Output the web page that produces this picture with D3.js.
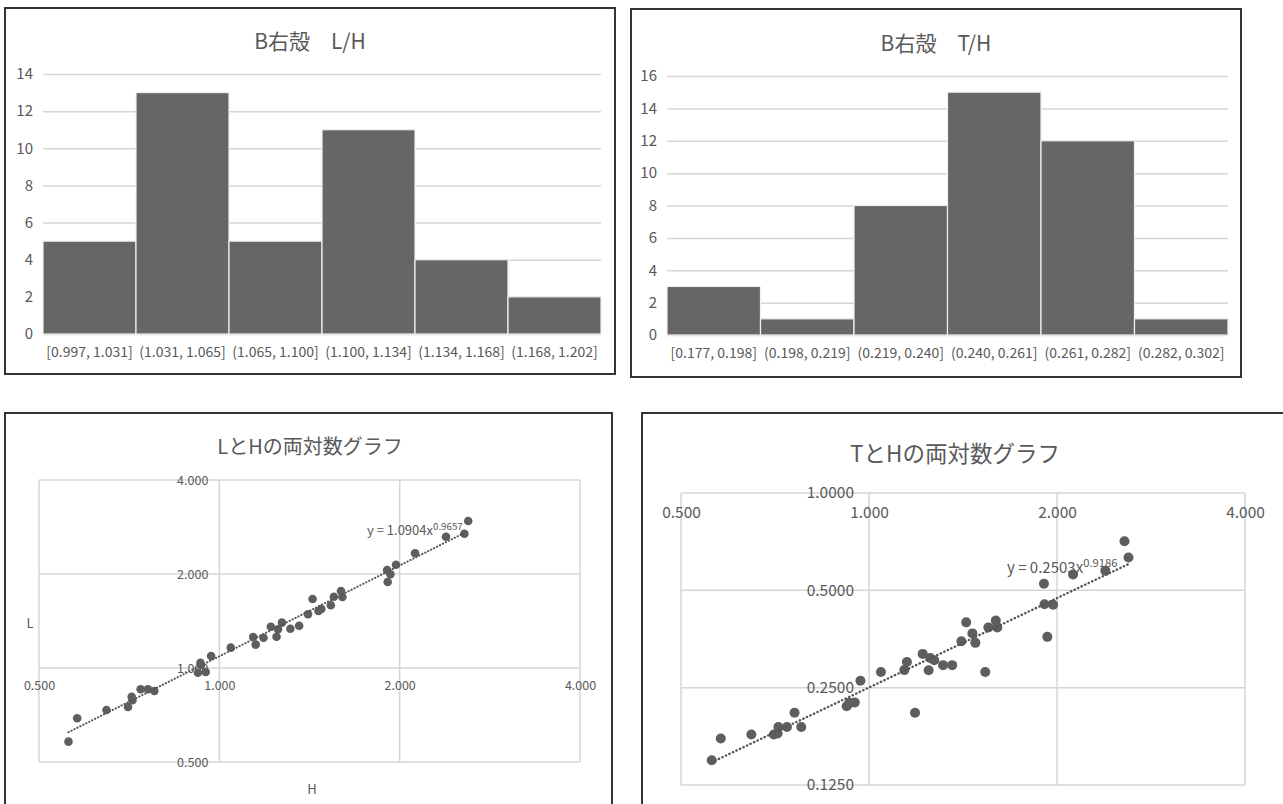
<!DOCTYPE html>
<html>
<head>
<meta charset="utf-8">
<script src="https://cdn.jsdelivr.net/npm/d3@7"></script>
<style>
  body { margin: 0; background: #fff; }
  svg { display: block; }
  text { font-family: "Noto Sans CJK JP", "Noto Sans", sans-serif; fill: #595959; }
</style>
</head>
<body>
<svg id="chart" width="1283" height="804"></svg>
<script>
// ---- Histogram of L/H ratio (right valve, group B) ----
const binsLH = ["[0.997, 1.031]", "(1.031, 1.065]", "(1.065, 1.100]", "(1.100, 1.134]", "(1.134, 1.168]", "(1.168, 1.202]"];
const countsLH = [5, 13, 5, 11, 4, 2];
const ticksLH = [0, 2, 4, 6, 8, 10, 12, 14];

// ---- Histogram of T/H ratio ----
const binsTH = ["[0.177, 0.198]", "(0.198, 0.219]", "(0.219, 0.240]", "(0.240, 0.261]", "(0.261, 0.282]", "(0.282, 0.302]"];
const countsTH = [3, 1, 8, 15, 12, 1];
const ticksTH = [0, 2, 4, 6, 8, 10, 12, 14, 16];

// ---- Shell measurements: height H, length L, thickness T ----
const shellH = [0.560, 0.579, 0.648, 0.704, 0.714, 0.716, 0.739, 0.760, 0.779, 0.921,
                0.930, 0.932, 0.949, 0.969, 1.045, 1.139, 1.150, 1.185, 1.219, 1.246,
                1.253, 1.272, 1.314, 1.359, 1.406, 1.431, 1.464, 1.480, 1.535, 1.553,
                1.596, 1.605, 1.906, 1.910, 1.930, 1.972, 2.122, 2.390, 2.565, 2.603];
const shellL = [0.581, 0.690, 0.734, 0.750, 0.809, 0.788, 0.855, 0.855, 0.844, 0.966,
                1.040, 1.022, 0.971, 1.093, 1.162, 1.257, 1.188, 1.250, 1.356, 1.259,
                1.330, 1.397, 1.336, 1.366, 1.486, 1.663, 1.522, 1.545, 1.588, 1.692,
                1.764, 1.688, 2.060, 1.885, 1.996, 2.142, 2.330, 2.633, 2.692, 2.957];
const shellT = [0.149, 0.174, 0.179, 0.179, 0.1805, 0.189, 0.189, 0.209, 0.189, 0.219,
                0.224, 0.224, 0.225, 0.2625, 0.2795, 0.2833, 0.300, 0.209, 0.318, 0.283,
                0.309, 0.304, 0.2935, 0.2935, 0.348, 0.398, 0.368, 0.344, 0.2795, 0.384,
                0.403, 0.384, 0.524, 0.453, 0.359, 0.451, 0.560, 0.575, 0.709, 0.632];

// ---- Log axes ----
const logTicksH = [0.5, 1, 2, 4];
const logLabelsH = ["0.500", "1.000", "2.000", "4.000"];
const logTicksL = [0.5, 1, 2, 4];
const logLabelsL = ["0.500", "1.000", "2.000", "4.000"];
const logTicksT = [0.125, 0.25, 0.5, 1];
const logLabelsT = ["0.1250", "0.2500", "0.5000", "1.0000"];

// ---- Power-law fits y = a * x^b ----
const powerFitL = [1.0904, 0.9657];
const powerFitT = [0.2503, 0.9186];

const svg = d3.select("#chart");
const INK = "#595959";
const GRID = "#d6d6d6";

function panelFrame(x0, y0, x1, y1) {
  svg.append("rect")
    .attr("x", x0).attr("y", y0)
    .attr("width", x1 - x0).attr("height", y1 - y0)
    .attr("fill", "#fff")
    .attr("stroke", "#333").attr("stroke-width", 2);
}

function histogram(frame, area, title, titleY, bins, counts, ticks, tickFont, binFont, titleFont) {
  panelFrame(...frame);
  const [ax0, ay0, ax1, ay1] = area;
  const g = svg.append("g");
  const x = d3.scaleBand().domain(bins).range([ax0, ax1]).padding(0);
  const y = d3.scaleLinear().domain([0, d3.max(ticks)]).range([ay1, ay0]);

  // horizontal gridlines + value labels
  const yAxis = g.append("g")
    .attr("transform", `translate(${ax0},0)`)
    .call(d3.axisLeft(y).tickValues(ticks).tickSize(-(ax1 - ax0)).tickPadding(10).tickFormat(d3.format("d")));
  yAxis.select(".domain").remove();
  yAxis.selectAll("line").attr("stroke", GRID).attr("stroke-width", 1.5);
  yAxis.selectAll("text").attr("font-size", tickFont).style("fill", INK);

  g.selectAll("rect.bar").data(counts).join("rect")
    .attr("class", "bar")
    .attr("x", (d, i) => x(bins[i]))
    .attr("width", x.bandwidth())
    .attr("y", d => y(d))
    .attr("height", d => y(0) - y(d))
    .attr("fill", "#666")
    .attr("stroke", "#f0f0f0").attr("stroke-width", 1.2);

  const xAxis = g.append("g")
    .attr("transform", `translate(0,${ay1})`)
    .call(d3.axisBottom(x).tickSize(0).tickPadding(13));
  xAxis.select(".domain").remove();
  xAxis.selectAll("text").attr("font-size", binFont).style("fill", INK);

  svg.append("text")
    .attr("x", (frame[0] + frame[2]) / 2).attr("y", titleY)
    .attr("text-anchor", "middle").attr("dominant-baseline", "central")
    .attr("font-size", titleFont).text(title);
}

function logScatter(opt) {
  panelFrame(...opt.frame);
  const [ax0, ay0, ax1, ay1] = opt.area;
  const g = svg.append("g");
  const x = d3.scaleLog().base(2).domain([logTicksH[0], logTicksH[logTicksH.length - 1]]).range([ax0, ax1]);
  const y = d3.scaleLog().base(2).domain([opt.yTicks[0], opt.yTicks[opt.yTicks.length - 1]]).range([ay1, ay0]);

  // gridlines
  g.selectAll("line.vg").data(logTicksH).join("line")
    .attr("x1", d => x(d)).attr("x2", d => x(d))
    .attr("y1", ay0).attr("y2", ay1)
    .attr("stroke", GRID).attr("stroke-width", 1.5);
  g.selectAll("line.hg").data(opt.yTicks).join("line")
    .attr("y1", d => y(d)).attr("y2", d => y(d))
    .attr("x1", ax0).attr("x2", ax1)
    .attr("stroke", GRID).attr("stroke-width", 1.5);

  // axes cross at 1
  const xAxis = g.append("g")
    .attr("transform", `translate(0,${y(1)})`)
    .call(d3.axisBottom(x).tickValues(logTicksH).tickSize(0).tickPadding(opt.xPad)
      .tickFormat((d, i) => logLabelsH[i]));
  xAxis.select(".domain").remove();
  xAxis.selectAll("text").attr("font-size", opt.tickFont).style("fill", INK);

  const yAxis = g.append("g")
    .attr("transform", `translate(${x(1)},0)`)
    .call(d3.axisLeft(y).tickValues(opt.yTicks).tickSize(0).tickPadding(opt.yPad)
      .tickFormat((d, i) => opt.yLabels[i]));
  yAxis.select(".domain").remove();
  yAxis.selectAll("text").attr("font-size", opt.tickFont).style("fill", INK);

  // data points
  g.selectAll("circle").data(shellH).join("circle")
    .attr("cx", d => x(d))
    .attr("cy", (d, i) => y(opt.values[i]))
    .attr("r", opt.r)
    .attr("fill", "#5e5e5e");

  // power trendline over the observed range of H
  const [a, b] = opt.fit;
  const hExt = d3.extent(shellH);
  const hs = d3.range(0, 41).map(k => hExt[0] * Math.pow(hExt[1] / hExt[0], k / 40));
  g.append("path")
    .datum(hs)
    .attr("d", d3.line().x(h => x(h)).y(h => y(a * Math.pow(h, b))))
    .attr("fill", "none")
    .attr("stroke", "#555").attr("stroke-width", opt.lineW)
    .attr("stroke-dasharray", opt.dash).attr("stroke-linecap", "round");

  const eq = svg.append("text")
    .attr("x", opt.eqX).attr("y", opt.eqY)
    .attr("font-size", opt.eqFont);
  eq.append("tspan").text(`y = ${a.toFixed(4)}x`);
  eq.append("tspan").attr("dy", -opt.eqFont * 0.4).attr("font-size", opt.eqFont * 0.75).text(b.toFixed(4));

  svg.append("text")
    .attr("x", (opt.frame[0] + opt.titleCx)).attr("y", opt.titleY)
    .attr("text-anchor", "middle").attr("dominant-baseline", "central")
    .attr("font-size", opt.titleFont).text(opt.title);

  if (opt.xTitle) {
    svg.append("text").attr("x", opt.xTitle[1]).attr("y", opt.xTitle[2])
      .attr("text-anchor", "middle").attr("dominant-baseline", "central")
      .attr("font-size", opt.tickFont + 0.5).text(opt.xTitle[0]);
  }
  if (opt.yTitle) {
    svg.append("text").attr("x", opt.yTitle[1]).attr("y", opt.yTitle[2])
      .attr("text-anchor", "middle").attr("dominant-baseline", "central")
      .attr("font-size", opt.tickFont + 0.5).text(opt.yTitle[0]);
  }
}

histogram([5, 8, 615, 374], [43, 74, 601, 334], "B右殻　L/H", 40, binsLH, countsLH, ticksLH, 15, 14, 21);
histogram([631, 9, 1241, 377], [667, 76, 1228, 335], "B右殻　T/H", 42, binsTH, countsTH, ticksTH, 15, 14, 21);

logScatter({
  frame: [5, 413, 612, 830], area: [39, 480, 580, 762],
  yTicks: logTicksL, yLabels: logLabelsL, values: shellL, fit: powerFitL,
  tickFont: 12.5, xPad: 13, yPad: 11, r: 4.3, lineW: 2, dash: "0.3 3",
  eqX: 367, eqY: 535, eqFont: 13,
  title: "LとHの両対数グラフ", titleCx: 305, titleY: 445, titleFont: 20,
  xTitle: ["H", 312, 788], yTitle: ["L", 30, 622]
});

logScatter({
  frame: [642, 413, 1295, 830], area: [681, 493, 1245, 785],
  yTicks: logTicksT, yLabels: logLabelsT, values: shellT, fit: powerFitT,
  tickFont: 15.5, xPad: 14, yPad: 15, r: 5, lineW: 2.4, dash: "0.3 3.6",
  eqX: 1007, eqY: 573, eqFont: 15,
  title: "TとHの両対数グラフ", titleCx: 313, titleY: 452, titleFont: 22.5
});
</script>
</body>
</html>
